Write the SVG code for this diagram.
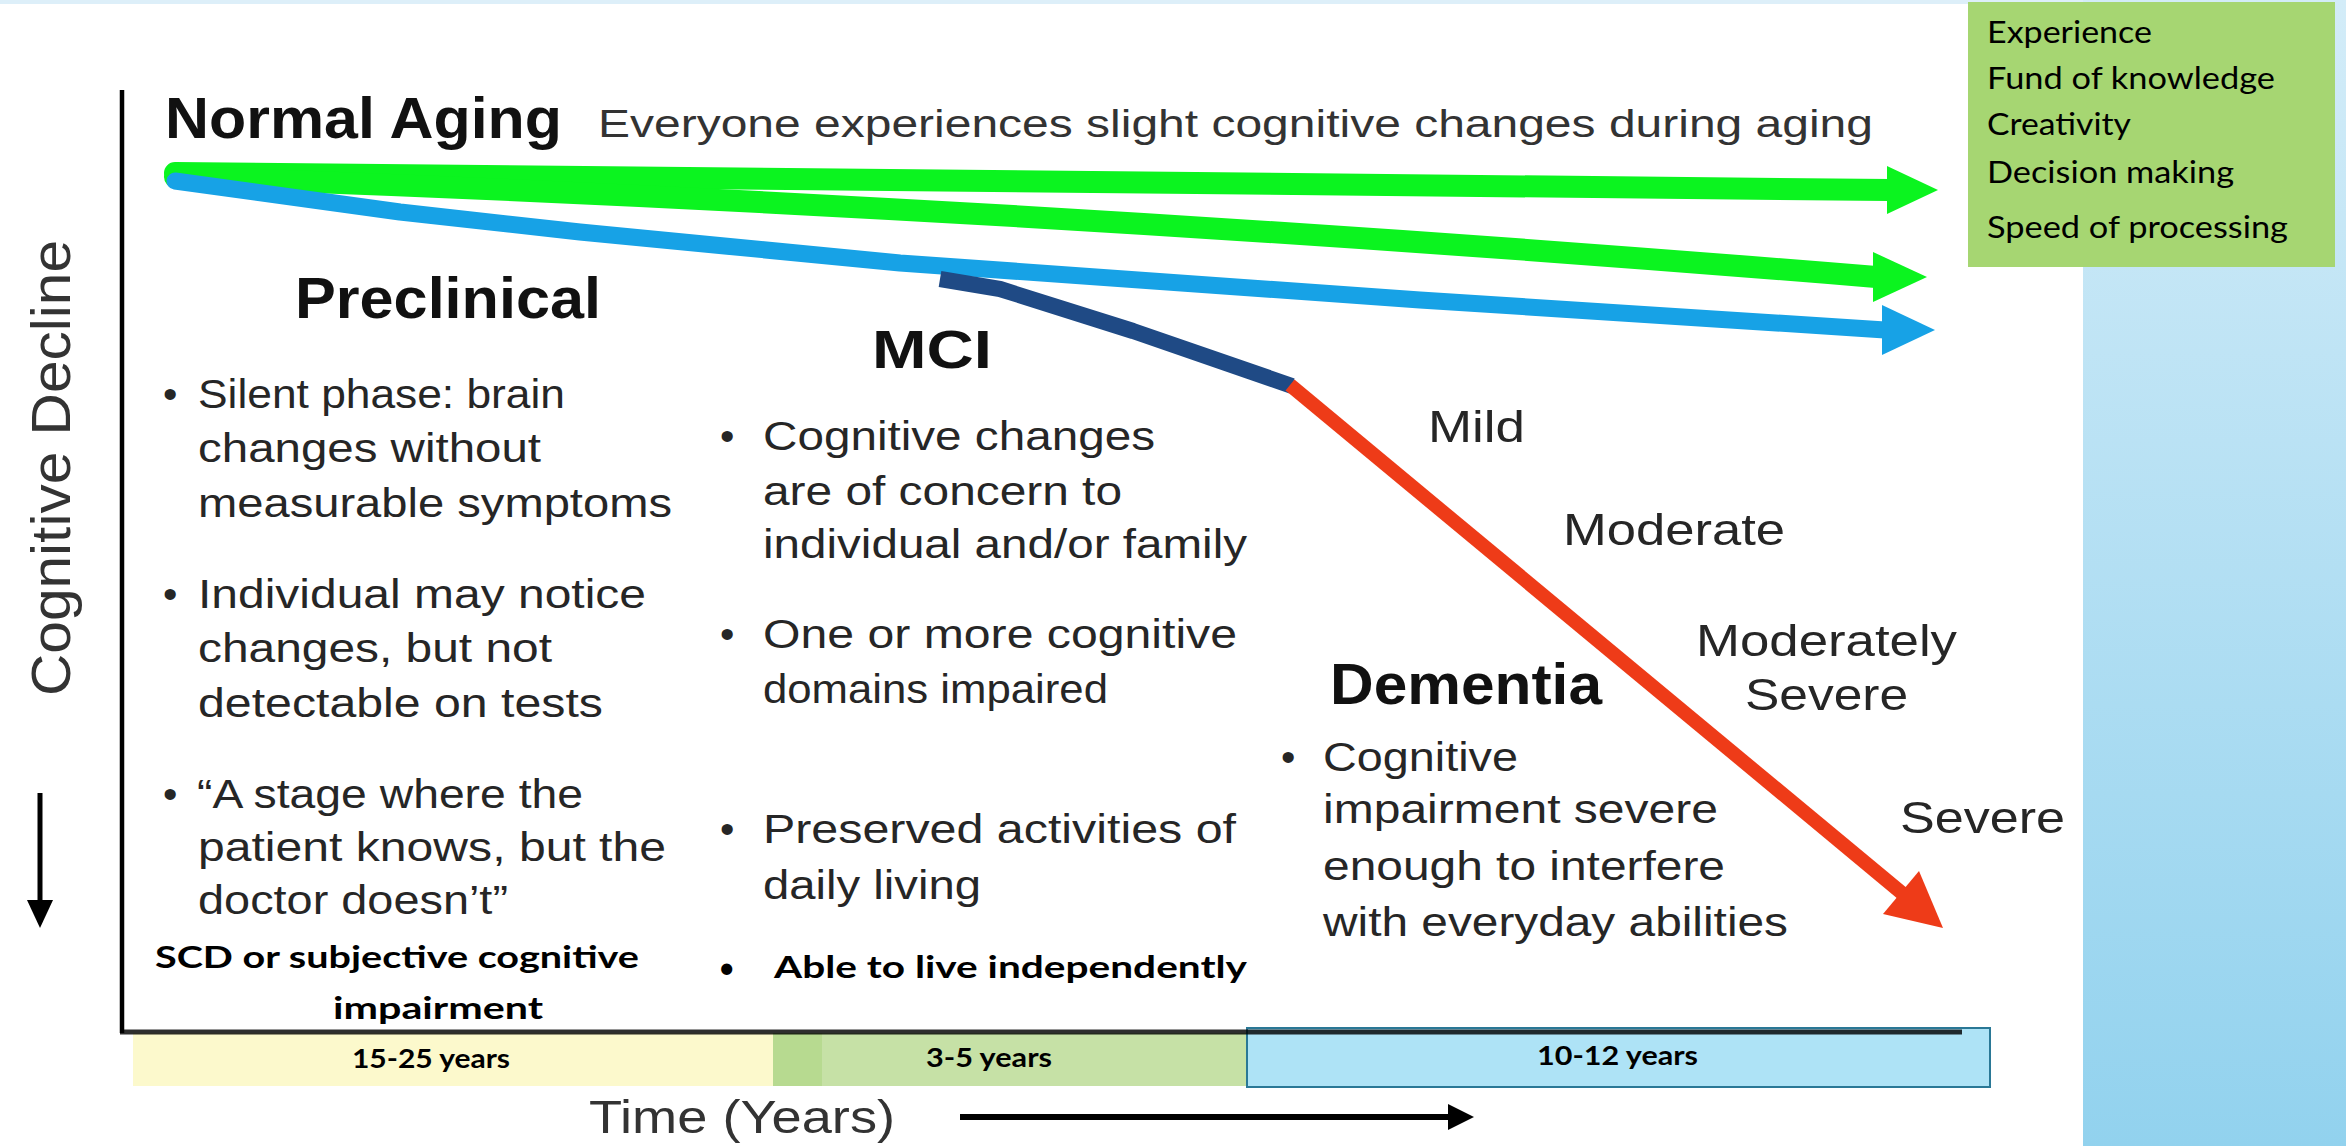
<svg xmlns="http://www.w3.org/2000/svg" width="2346" height="1146" viewBox="0 0 2346 1146">
<defs>
<linearGradient id="panelGrad" x1="0" y1="0" x2="0" y2="1">
<stop offset="0" stop-color="#D3ECF8"/>
<stop offset="1" stop-color="#92D2EE"/>
</linearGradient>
<style>
.t{font-family:"Liberation Sans",Arial,sans-serif;font-size:41px;fill:#262626}
.lab{font-family:"Liberation Sans",Arial,sans-serif;font-size:45px;fill:#262626}
.hd{font-family:"Liberation Sans",Arial,sans-serif;font-weight:bold;fill:#111}
.cb{font-family:Lato,"Open Sans",sans-serif;font-weight:bold;fill:#000}
.cr{font-family:Lato,"Open Sans",sans-serif;font-size:30px;fill:#000}
.bar{font-family:Lato,"Open Sans",sans-serif;font-weight:bold;font-size:26px;fill:#000}
</style>
</defs>
<rect x="0" y="0" width="2346" height="1146" fill="#FFFFFF"/>
<rect x="0" y="0" width="2346" height="4" fill="#DDEFF9"/>
<rect id="side-panel" x="2083" y="0" width="263" height="1146" fill="url(#panelGrad)"/>

<g id="legend-box">
<rect x="1968" y="2" width="367" height="265" fill="#A6D672"/>
<text class="cr" x="1987" y="43" textLength="165" lengthAdjust="spacingAndGlyphs">Experience</text>
<text class="cr" x="1987" y="89" textLength="288" lengthAdjust="spacingAndGlyphs">Fund of knowledge</text>
<text class="cr" x="1987" y="135" textLength="144" lengthAdjust="spacingAndGlyphs">Creativity</text>
<text class="cr" x="1987" y="183" textLength="247" lengthAdjust="spacingAndGlyphs">Decision making</text>
<text class="cr" x="1987" y="238" textLength="301" lengthAdjust="spacingAndGlyphs">Speed of processing</text>
</g>

<g id="time-bars">
<rect x="133" y="1033" width="640" height="53" fill="#FCF9CC"/>
<rect x="773" y="1033" width="474" height="53" fill="#C6E1A6"/>
<rect x="773" y="1033" width="49" height="53" fill="#B7DA90"/>
<rect x="1247" y="1028" width="743" height="59" fill="#AEE3F6" stroke="#2A7896" stroke-width="2"/>
<text class="bar" x="352" y="1068" textLength="158" lengthAdjust="spacingAndGlyphs">15-25 years</text>
<text class="bar" x="926" y="1067" textLength="126" lengthAdjust="spacingAndGlyphs">3-5 years</text>
<text class="bar" x="1537" y="1065" textLength="161" lengthAdjust="spacingAndGlyphs">10-12 years</text>
</g>

<g id="axes">
<line x1="122" y1="90" x2="122" y2="1033" stroke="#000" stroke-width="4.5"/>
<line x1="120" y1="1032" x2="1962" y2="1032" stroke="#000" stroke-opacity="0.82" stroke-width="5"/>
<text class="t" transform="translate(70,696) rotate(-90)" style="font-size:55px;fill:#333" textLength="456" lengthAdjust="spacingAndGlyphs">Cognitive Decline</text>
<line x1="40" y1="793" x2="40" y2="905" stroke="#000" stroke-width="5"/>
<polygon points="27,900 53,900 40,928" fill="#000"/>
<text class="t" x="589" y="1133" style="font-size:46px;fill:#333" textLength="306" lengthAdjust="spacingAndGlyphs">Time (Years)</text>
<line x1="960" y1="1117" x2="1452" y2="1117" stroke="#000" stroke-width="6"/>
<polygon points="1448,1104 1474,1117 1448,1130" fill="#000"/>
</g>

<g id="connectors">
<path d="M175,173 L1890,190" stroke="#0BF41F" stroke-width="22" stroke-linecap="round" fill="none"/>
<polygon points="1887,166 1938,190 1887,214" fill="#0BF41F"/>
<path d="M175,177 Q1000,205 1876,277" stroke="#0BF41F" stroke-width="22" stroke-linecap="round" fill="none"/>
<polygon points="1873,252 1927,277 1873,302" fill="#0BF41F"/>
<path d="M175,181 L400,212 L580,232 L900,263 L1420,300 L1885,330" stroke="#17A2E6" stroke-width="17" stroke-linecap="round" stroke-linejoin="round" fill="none"/>
<polygon points="1882,305 1935,330 1882,355" fill="#17A2E6"/>
<path d="M940,279 L1000,289 L1133,331 L1292,386" stroke="#1F4A85" stroke-width="16" stroke-linejoin="round" fill="none"/>
<path d="M1290,385 L1903,894" stroke="#EE3B18" stroke-width="14" fill="none"/>
<polygon points="1883,914 1943,928 1919,871" fill="#EE3B18"/>
</g>

<g id="normal-aging">
<text class="hd" x="165" y="138" style="font-size:58px" textLength="397" lengthAdjust="spacingAndGlyphs">Normal Aging</text>
<text class="t" x="598" y="137" style="font-size:38px;fill:#333" textLength="1275" lengthAdjust="spacingAndGlyphs">Everyone experiences slight cognitive changes during aging</text>
</g>

<g id="preclinical">
<text class="hd" x="295" y="318" style="font-size:57px" textLength="306" lengthAdjust="spacingAndGlyphs">Preclinical</text>
<text class="t" x="163" y="408">•</text>
<text class="t" x="198" y="408" textLength="367" lengthAdjust="spacingAndGlyphs">Silent phase: brain</text>
<text class="t" x="198" y="462" textLength="343" lengthAdjust="spacingAndGlyphs">changes without</text>
<text class="t" x="198" y="517" textLength="474" lengthAdjust="spacingAndGlyphs">measurable symptoms</text>
<text class="t" x="163" y="608">•</text>
<text class="t" x="198" y="608" textLength="448" lengthAdjust="spacingAndGlyphs">Individual may notice</text>
<text class="t" x="198" y="662" textLength="354" lengthAdjust="spacingAndGlyphs">changes, but not</text>
<text class="t" x="198" y="717" textLength="405" lengthAdjust="spacingAndGlyphs">detectable on tests</text>
<text class="t" x="163" y="808">•</text>
<text class="t" x="197" y="808" textLength="386" lengthAdjust="spacingAndGlyphs">“A stage where the</text>
<text class="t" x="198" y="861" textLength="468" lengthAdjust="spacingAndGlyphs">patient knows, but the</text>
<text class="t" x="198" y="914" textLength="310" lengthAdjust="spacingAndGlyphs">doctor doesn’t”</text>
<text class="cb" x="155" y="968" style="font-size:30px" textLength="484" lengthAdjust="spacingAndGlyphs">SCD or subjective cognitive</text>
<text class="cb" x="333" y="1019" style="font-size:30px" textLength="210" lengthAdjust="spacingAndGlyphs">impairment</text>
</g>

<g id="mci">
<text class="hd" x="872" y="368" style="font-size:54px" textLength="120" lengthAdjust="spacingAndGlyphs">MCI</text>
<text class="t" x="720" y="450">•</text>
<text class="t" x="763" y="450" textLength="392" lengthAdjust="spacingAndGlyphs">Cognitive changes</text>
<text class="t" x="763" y="505" textLength="359" lengthAdjust="spacingAndGlyphs">are of concern to</text>
<text class="t" x="763" y="558" textLength="484" lengthAdjust="spacingAndGlyphs">individual and/or family</text>
<text class="t" x="720" y="648">•</text>
<text class="t" x="763" y="648" textLength="474" lengthAdjust="spacingAndGlyphs">One or more cognitive</text>
<text class="t" x="763" y="703" textLength="345" lengthAdjust="spacingAndGlyphs">domains impaired</text>
<text class="t" x="720" y="843">•</text>
<text class="t" x="763" y="843" textLength="473" lengthAdjust="spacingAndGlyphs">Preserved activities of</text>
<text class="t" x="763" y="899" textLength="218" lengthAdjust="spacingAndGlyphs">daily living</text>
<text class="cb" x="718" y="978" style="font-size:30px;font-weight:normal">•</text>
<text class="cb" x="774" y="978" style="font-size:30px" textLength="473" lengthAdjust="spacingAndGlyphs">Able to live independently</text>
</g>

<g id="dementia">
<text class="hd" x="1330" y="704" style="font-size:57px" textLength="272" lengthAdjust="spacingAndGlyphs">Dementia</text>
<text class="t" x="1281" y="771">•</text>
<text class="t" x="1323" y="771" textLength="195" lengthAdjust="spacingAndGlyphs">Cognitive</text>
<text class="t" x="1323" y="823" textLength="395" lengthAdjust="spacingAndGlyphs">impairment  severe</text>
<text class="t" x="1323" y="880" textLength="402" lengthAdjust="spacingAndGlyphs">enough  to interfere</text>
<text class="t" x="1323" y="936" textLength="465" lengthAdjust="spacingAndGlyphs">with everyday abilities</text>
</g>

<g id="severity-labels">
<text class="lab" x="1428" y="442" textLength="97" lengthAdjust="spacingAndGlyphs">Mild</text>
<text class="lab" x="1563" y="545" textLength="222" lengthAdjust="spacingAndGlyphs">Moderate</text>
<text class="lab" x="1696" y="656" textLength="261" lengthAdjust="spacingAndGlyphs">Moderately</text>
<text class="lab" x="1745" y="710" textLength="163" lengthAdjust="spacingAndGlyphs">Severe</text>
<text class="lab" x="1900" y="833" textLength="165" lengthAdjust="spacingAndGlyphs">Severe</text>
</g>
</svg>
